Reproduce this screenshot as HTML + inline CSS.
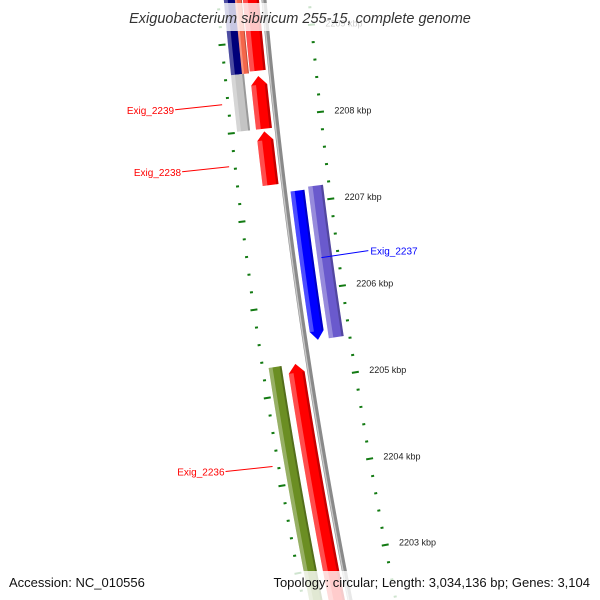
<!DOCTYPE html>
<html><head><meta charset="utf-8"><style>
html,body{margin:0;padding:0;background:#fff;width:600px;height:600px;overflow:hidden;}
svg{display:block;font-family:"Liberation Sans",sans-serif;}
</style></head><body>
<svg id="map" width="600" height="600" viewBox="0 0 600 600" xmlns="http://www.w3.org/2000/svg">
<g id="ticks"></g>
<g id="backbone"></g>
<g id="features"></g>
<g id="labels"></g>
<rect x="0" y="3" width="600" height="28" fill="#fff" fill-opacity="0.78"/>
<text x="300" y="23" text-anchor="middle" font-size="14.5" font-style="italic" fill="#333">Exiguobacterium sibiricum 255-15, complete genome</text>
<rect x="0" y="571" width="600" height="29" fill="#fff" fill-opacity="0.8"/>
<text x="9" y="587" font-size="13" fill="#111">Accession: NC_010556</text>
<text x="590" y="587" text-anchor="end" font-size="13" fill="#111">Topology: circular; Length: 3,034,136 bp; Genes: 3,104</text>
</svg>
<script>
// data (kbp)
const majorTicks = [2209, 2208, 2207, 2206, 2205, 2204, 2203];
const tickLabels = ["2209 kbp","2208 kbp","2207 kbp","2206 kbp","2205 kbp","2204 kbp","2203 kbp"];
const featStart = [2211, 2211, 2208.52, 2211, 2208.48, 2207.85, 2207.14, 2207.17, 2205.2, 2205.2];
const featEnd   = [2208.52, 2208.52, 2207.88, 2208.54, 2207.88, 2207.24, 2205.43, 2205.43, 2202.4, 2202.4];
const featName  = ["cog-navy","cog-salmon","cog-gray","cds-red-1","cds-exig-2239","cds-exig-2238","cds-exig-2237","cog-purple","cds-exig-2236","cog-olive"];
const featColor = ["#00007a","#f4664a","#c4c4c4","#ff0000","#ff0000","#ff0000","#0000ff","#6a5acd","#ff0000","#6b8e23"];
const featRing  = ["cogF","salmon","cogF","fwd","fwd","fwd","rev","cogR","fwd","cogF"];
const featHead  = ["","","","","up","up","down","","up",""];
const labelText = ["Exig_2239","Exig_2238","Exig_2237","Exig_2236"];
const labelBp   = [2208.2, 2207.5, 2206.35, 2204.1];
const labelColor= ["#ff0000","#ff0000","#0000ff","#ff0000"];

const NS="http://www.w3.org/2000/svg";
function circ(a,b,c){const d=2*(a[0]*(b[1]-c[1])+b[0]*(c[1]-a[1])+c[0]*(a[1]-b[1]));
 const ux=((a[0]**2+a[1]**2)*(b[1]-c[1])+(b[0]**2+b[1]**2)*(c[1]-a[1])+(c[0]**2+c[1]**2)*(a[1]-b[1]))/d;
 const uy=((a[0]**2+a[1]**2)*(c[0]-b[0])+(b[0]**2+b[1]**2)*(a[0]-c[0])+(c[0]**2+c[1]**2)*(b[0]-a[0]))/d;
 return [ux,uy,Math.hypot(a[0]-ux,a[1]-uy)];}
const CC=circ([264,0],[307.9,360],[350,600]);
const cx=CC[0],cy=CC[1],R=CC[2];
const refY=292;
const refX=cx-Math.sqrt(R*R-(refY-cy)*(refY-cy));
const phi0=Math.atan2(refY-cy,refX-cx);
const dphi=88.3/R;
function phi(bp){return phi0+(bp-2206)*dphi;}
function pt(bp,dr){const f=phi(bp),r=R-dr;return [cx+r*Math.cos(f),cy+r*Math.sin(f)];}
function el(tag,attrs,parent){const e=document.createElementNS(NS,tag);for(const k in attrs)e.setAttribute(k,attrs[k]);parent.appendChild(e);return e;}
function arcPts(b1,b2,dr,n){const a=[];for(let i=0;i<=n;i++){a.push(pt(b1+(b2-b1)*i/n,dr));}return a;}
function poly(p){return p.map(q=>q[0].toFixed(2)+","+q[1].toFixed(2)).join(" ");}

// backbone
const bb=document.getElementById('backbone');
const bl1=el('polyline',{points:poly(arcPts(2212,2201.5,0,60)),fill:'none',stroke:'#8a8a8a','stroke-width':5},bb);


const bl2=el('polyline',{points:poly(arcPts(2212,2201.5,-1.3,60)),fill:'none',stroke:'#c8c8c8','stroke-width':1.4},bb);



// ticks
const tg=document.getElementById('ticks');
function tickRing(rd,phase,name){
 for(let k=0;k<=60;k++){const bp=2210-k*0.2+phase;const major=(k%5===0);
  const len=major?7:3;const p1=pt(bp,rd-len/2),p2=pt(bp,rd+len/2);
  const t=el('line',{x1:p1[0],y1:p1[1],x2:p2[0],y2:p2[1],stroke:'#127a12','stroke-width':2},tg);
  
  }
}
tickRing(45,0,'outer');
tickRing(-46,-0.13,'inner');
majorTicks.forEach((m,i)=>{const p=pt(m,59);
 const t=el('text',{x:p[0],y:p[1]+3,'font-size':9,fill:'#222'},tg);t.textContent=tickLabels[i];
 
 });

// features
const rings={cogF:[-40,-27],salmon:[-29,-22],fwd:[-21,-5],rev:[6,20],cogR:[24,39]};
const fg=document.getElementById('features');
const H=0.1;
featStart.forEach((s,i)=>{const e=featEnd[i];const r1=rings[featRing[i]][0],r2=rings[featRing[i]][1];const head=featHead[i];
 const g=el('g',{},fg);
 
 
 let top=s,bot=e,pts;
 const mid=(r1+r2)/2;
 if(head==='up'){top=s-H;pts=[...arcPts(top,bot,r2,20),...arcPts(bot,top,r1,20),pt(s,mid)];}
 else if(head==='down'){bot=e+H;pts=[...arcPts(top,bot,r2,20),pt(e,mid),...arcPts(bot,top,r1,20)];}
 else pts=[...arcPts(top,bot,r2,20),...arcPts(bot,top,r1,20)];
 el('polygon',{points:poly(pts),fill:featColor[i]},g);
 const w=r2-r1;
 el('polygon',{points:poly([...arcPts(top,bot,r1+w*0.3,20),...arcPts(bot,top,r1,20)]),fill:'#fff','fill-opacity':0.3},g);
 el('polygon',{points:poly([...arcPts(top,bot,r2,20),...arcPts(bot,top,r2-w*0.15,20)]),fill:'#000','fill-opacity':0.22},g);
});

// labels
const lg=document.getElementById('labels');
labelText.forEach((t,i)=>{const left=labelColor[i]!=='#0000ff';
 const a=pt(labelBp[i],left?-52:28);const b=[a[0]+(left?-47:47),a[1]+(left?5:-7)];
 const l=el('line',{x1:a[0],y1:a[1],x2:b[0],y2:b[1],stroke:labelColor[i],'stroke-width':1},lg);
 
 
 const tx=el('text',{x:left?b[0]-1:b[0]+2,y:b[1]+4,'font-size':10,fill:labelColor[i],'text-anchor':left?'end':'start'},lg);
 tx.textContent=t;
 
 });
</script>
</body></html>
